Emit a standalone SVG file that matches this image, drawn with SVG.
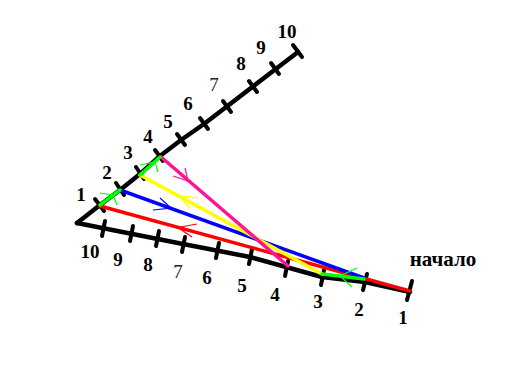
<svg xmlns="http://www.w3.org/2000/svg" width="512" height="384" viewBox="0 0 512 384">
<style>
.arm{fill:none;stroke:#000;stroke-width:4.5;stroke-linecap:round;stroke-linejoin:round}
.tick{stroke:#000;stroke-width:4;stroke-linecap:round}
.ln{fill:none;stroke-width:3.5;stroke-linecap:round}
.ah{fill:none;stroke-width:1.2}
text{font-family:'Liberation Serif','Times New Roman','DejaVu Serif',serif;font-weight:bold;font-size:19px;fill:#000;text-anchor:middle}
text.thin{font-weight:normal;fill:#222}
text.big{font-size:21px}
</style>
<rect width="512" height="384" fill="#fff"/>
<g id="top-arm" font-family="'Liberation Serif', 'DejaVu Serif', serif">
<polyline class="arm" points="77,223 100,205 120,190 140,174 160,156 181,140 204,124 298,52"/>
<g>
<line class="tick" x1="95" y1="199" x2="104" y2="211"/>
<line class="tick" x1="116" y1="183" x2="124" y2="195"/>
<line class="tick" x1="136" y1="167" x2="144" y2="179"/>
<line class="tick" x1="155" y1="150" x2="163" y2="161"/>
<line class="tick" x1="177" y1="134" x2="185" y2="145"/>
<line class="tick" x1="200" y1="118" x2="208" y2="129"/>
<line class="tick" x1="223" y1="101" x2="231" y2="112"/>
<line class="tick" x1="249" y1="81" x2="257" y2="92"/>
<line class="tick" x1="271" y1="63" x2="279" y2="74"/>
<line class="tick" x1="293" y1="45" x2="302" y2="57"/>
</g>
<text x="81" y="201">1</text>
<text x="107" y="179">2</text>
<text x="128" y="159">3</text>
<text x="148" y="143">4</text>
<text x="168" y="128">5</text>
<text x="188" y="110">6</text>
<text class="thin" x="214" y="91">7</text>
<text x="241" y="70">8</text>
<text x="261" y="54">9</text>
<text x="287" y="38">10</text>
</g>
<g id="bottom-arm" font-family="'Liberation Serif', 'DejaVu Serif', serif">
<polyline class="arm" points="77,223 183,244 250,257 322,277 365,282 410,292"/>
<g>
<line class="tick" x1="105" y1="221" x2="102" y2="236"/>
<line class="tick" x1="133" y1="226" x2="130" y2="241"/>
<line class="tick" x1="159" y1="231" x2="156" y2="246"/>
<line class="tick" x1="185" y1="237" x2="182" y2="252"/>
<line class="tick" x1="219" y1="243" x2="216" y2="258"/>
<line class="tick" x1="252" y1="249" x2="249" y2="264"/>
<line class="tick" x1="288" y1="261" x2="285" y2="276"/>
<line class="tick" x1="324" y1="270" x2="321" y2="285"/>
<line class="tick" x1="367" y1="274" x2="363" y2="290"/>
<line class="tick" x1="412" y1="281" x2="407" y2="300"/>
</g>
<text x="90" y="258">10</text>
<text x="118" y="266">9</text>
<text x="148" y="271">8</text>
<text class="thin" x="178" y="278">7</text>
<text x="207" y="284">6</text>
<text x="242" y="292">5</text>
<text x="275" y="301">4</text>
<text x="318" y="308">3</text>
<text x="359" y="316">2</text>
<text x="403" y="324">1</text>
<text class="big" x="443" y="266">начало</text>
</g>
<g id="connectors">
<line class="ln" stroke="#ff0000" x1="410" y1="291" x2="100" y2="206"/>
<path class="ah" stroke="#ff0000" d="M197,224 L178,227.5 L192,237"/>
<line class="ln" stroke="#0000ff" x1="120" y1="190" x2="364" y2="278"/>
<path class="ah" stroke="#0000ff" d="M160,198 L171,208 L153,210"/>
<line class="ln" stroke="#ffff00" x1="322" y1="274" x2="140" y2="175"/>
<path class="ah" stroke="#ffff00" d="M198,198 L179,195.5 L190,208"/>
<line class="ln" stroke="#ff1493" x1="161" y1="157" x2="288" y2="266"/>
<path class="ah" stroke="#ff1493" d="M173,176 L188,181 L185,168"/>
<line class="ln" stroke="#00ff00" x1="100" y1="205" x2="120" y2="190"/>
<path class="ah" stroke="#00ff00" d="M100,193 L113,195 L117,205"/>
<line class="ln" stroke="#00ff00" x1="140" y1="175" x2="160" y2="157"/>
<path class="ah" stroke="#00ff00" d="M140,165 L155,162 L158,172"/>
<line class="ln" stroke="#00ff00" x1="364" y1="279" x2="322" y2="274"/>
<path class="ah" stroke="#00ff00" d="M357,268 L340,276 L352,287"/>
</g>
</svg>
